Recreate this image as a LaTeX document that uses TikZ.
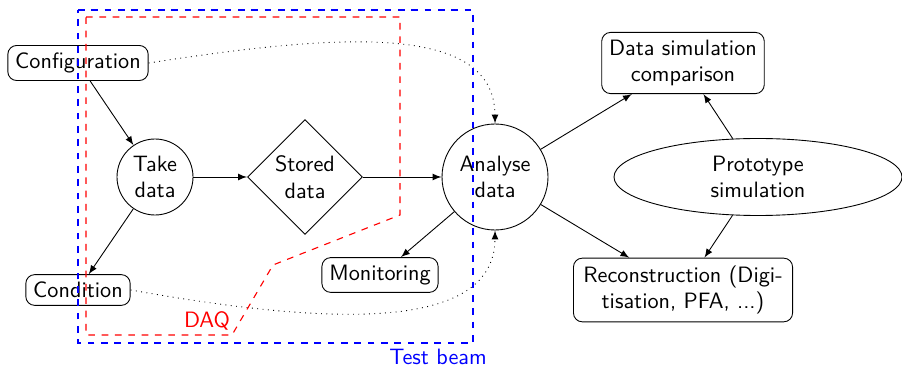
\documentclass[tikz,border=0pt]{standalone}
\usetikzlibrary{shapes.geometric,arrows}
\begin{document}
\begin{tikzpicture}[x=0.45pt,y=-0.45pt,font=\sffamily,>=latex,
  box/.style={draw,rounded corners=4pt,align=center},
  round/.style={draw,circle,align=center,inner sep=0pt},
  flow/.style={->},
  link/.style={->,dotted},
  zone/.style={dashed,line width=0.5pt}]
\useasboundingbox (0,0) rectangle (902,367);

% processing chain
\node[box] (config) at (78,63) {Configuration};
\node[round,minimum size=34.2pt] (take) at (155,177) {Take\\data};
\node[draw,diamond,minimum size=51.75pt,align=center,inner sep=0pt] (stored) at (305,177) {Stored\\data};
\node[round,minimum size=47.7pt] (analyse) at (495,177) {Analyse\\data};
\node[box] (cond) at (78,290) {Condition};
\node[box] (monitor) at (380,275) {Monitoring};
\node[box] (compare) at (683,63) {Data simulation\\comparison};
\node[draw,ellipse,minimum width=129.6pt,minimum height=34.65pt,align=center,inner sep=0pt] (proto) at (758,177) {Prototype\\simulation};
\node[box,minimum width=98.6pt] (reco) at (683,290) {Reconstruction (Digi-\\tisation, PFA, ...)};

\draw[flow] (config) -- (take);
\draw[flow] (take) -- (cond);
\draw[flow] (take) -- (stored);
\draw[flow] (stored) -- (analyse);
\draw[flow] (analyse) -- (monitor);
\draw[flow] (analyse) -- (compare);
\draw[flow] (analyse) -- (reco);
\draw[flow] (proto) -- (compare);
\draw[flow] (proto) -- (reco);

% metadata feeding the analysis
\draw[link] (config.east) .. controls (330,35) and (495,20) .. (analyse.north);
\draw[link] (cond.east) .. controls (300,320) and (495,340) .. (analyse.south);

% test beam and DAQ boundaries
\draw[zone,draw=blue] (78,10) -- (473,10) -- (473,343) -- (78,343) -- cycle;
\node[text=blue] (tb) at (438,357) {Test beam};
\draw[zone,draw=red] (86,17) -- (400,17) -- (400,215) -- (273,265) -- (232,335) -- (86,335) -- cycle;
\node[text=red] (daq) at (207,321) {DAQ};
\end{tikzpicture}
\end{document}
